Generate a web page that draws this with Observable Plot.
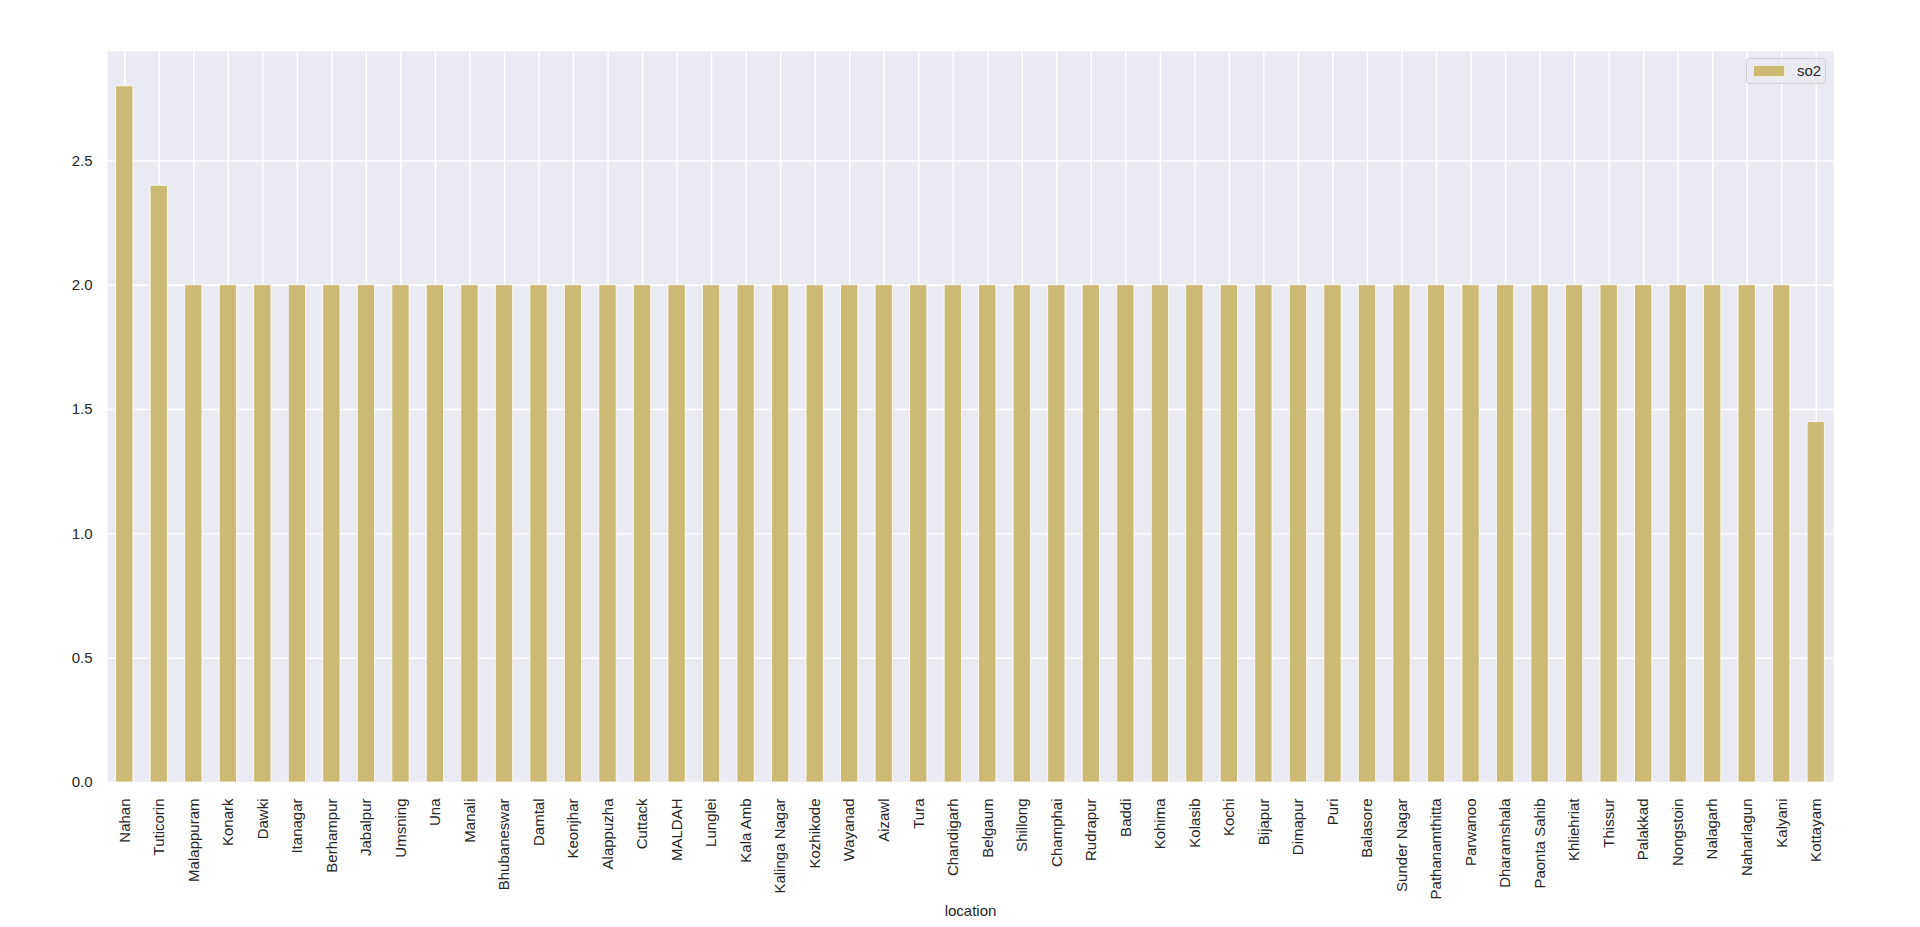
<!DOCTYPE html>
<html>
<head>
<meta charset="utf-8">
<script src="https://cdn.jsdelivr.net/npm/d3@7"></script>
<script src="https://cdn.jsdelivr.net/npm/@observablehq/plot@0.6"></script>
<style>
  html, body { margin: 0; padding: 0; background: white; }
  #wrap { position: relative; width: 1920px; height: 927px; }
  #legend {
    position: absolute; left: 1746px; top: 58px; width: 80px; height: 26px;
    box-sizing: border-box; border: 1px solid rgba(204,204,204,0.8); border-radius: 4px;
    background: rgba(234,234,242,0.8);
    font-family: "Liberation Sans", Arial, sans-serif; font-size: 15px; color: #262626;
  }
  #legend .patch { position: absolute; left: 6px; top: 6px; width: 30px; height: 10px; background: #ccb974; border: 0.5px solid rgba(255,255,255,0.7); }
  #legend .lab { position: absolute; left: 50px; top: 3px; line-height: 18px; }
</style>
</head>
<body>
<div id="wrap">
  <div id="chart"></div>
  <div id="legend"><div class="patch"></div><div class="lab">so2</div></div>
</div>
<script>
const locations = ["Nahan","Tuticorin","Malappuram","Konark","Dawki","Itanagar","Berhampur","Jabalpur","Umsning","Una","Manali","Bhubaneswar","Damtal","Keonjhar","Alappuzha","Cuttack","MALDAH","Lunglei","Kala Amb","Kalinga Nagar","Kozhikode","Wayanad","Aizawl","Tura","Chandigarh","Belgaum","Shillong","Champhai","Rudrapur","Baddi","Kohima","Kolasib","Kochi","Bijapur","Dimapur","Puri","Balasore","Sunder Nagar","Pathanamthitta","Parwanoo","Dharamshala","Paonta Sahib","Khliehriat","Thissur","Palakkad","Nongstoin","Nalagarh","Naharlagun","Kalyani","Kottayam"];
const so2 = [2.8,2.4,2,2,2,2,2,2,2,2,2,2,2,2,2,2,2,2,2,2,2,2,2,2,2,2,2,2,2,2,2,2,2,2,2,2,2,2,2,2,2,2,2,2,2,2,2,2,2,1.45];
const yTicks = [0,0.5,1.0,1.5,2.0,2.5];

const data = locations.map((location, i) => ({location, so2: so2[i]}));

const chart = Plot.plot({
  width: 1920, height: 927,
  marginLeft: 107, marginRight: 87, marginTop: 51, marginBottom: 145,
  style: {background: "white", fontFamily: "'Liberation Sans', Arial, sans-serif", fontSize: "15px", color: "#262626"},
  x: {domain: locations, paddingInner: 0.5, paddingOuter: 0.25, round: false},
  y: {domain: [0, 2.94]},
  marks: [
    Plot.frame({fill: "#eaeaf2", stroke: null}),
    Plot.gridX({stroke: "white", strokeOpacity: 1, strokeWidth: 1.4}),
    Plot.gridY(yTicks, {stroke: "white", strokeOpacity: 1, strokeWidth: 1.4}),
    Plot.barY(data, {x: "location", y: "so2", fill: "#ccb974", stroke: "white", strokeOpacity: 0.8, strokeWidth: 1}),
    Plot.axisX({tickRotate: -90, tickSize: 0, tickPadding: 16, label: "location", labelAnchor: "center", labelArrow: "none", labelOffset: 133, fontSize: 15}),
    Plot.axisY(yTicks, {tickSize: 0, tickPadding: 15, tickFormat: d3.format(".1f"), label: null, fontSize: 15})
  ]
});
document.getElementById("chart").appendChild(chart);
</script>
</body>
</html>
